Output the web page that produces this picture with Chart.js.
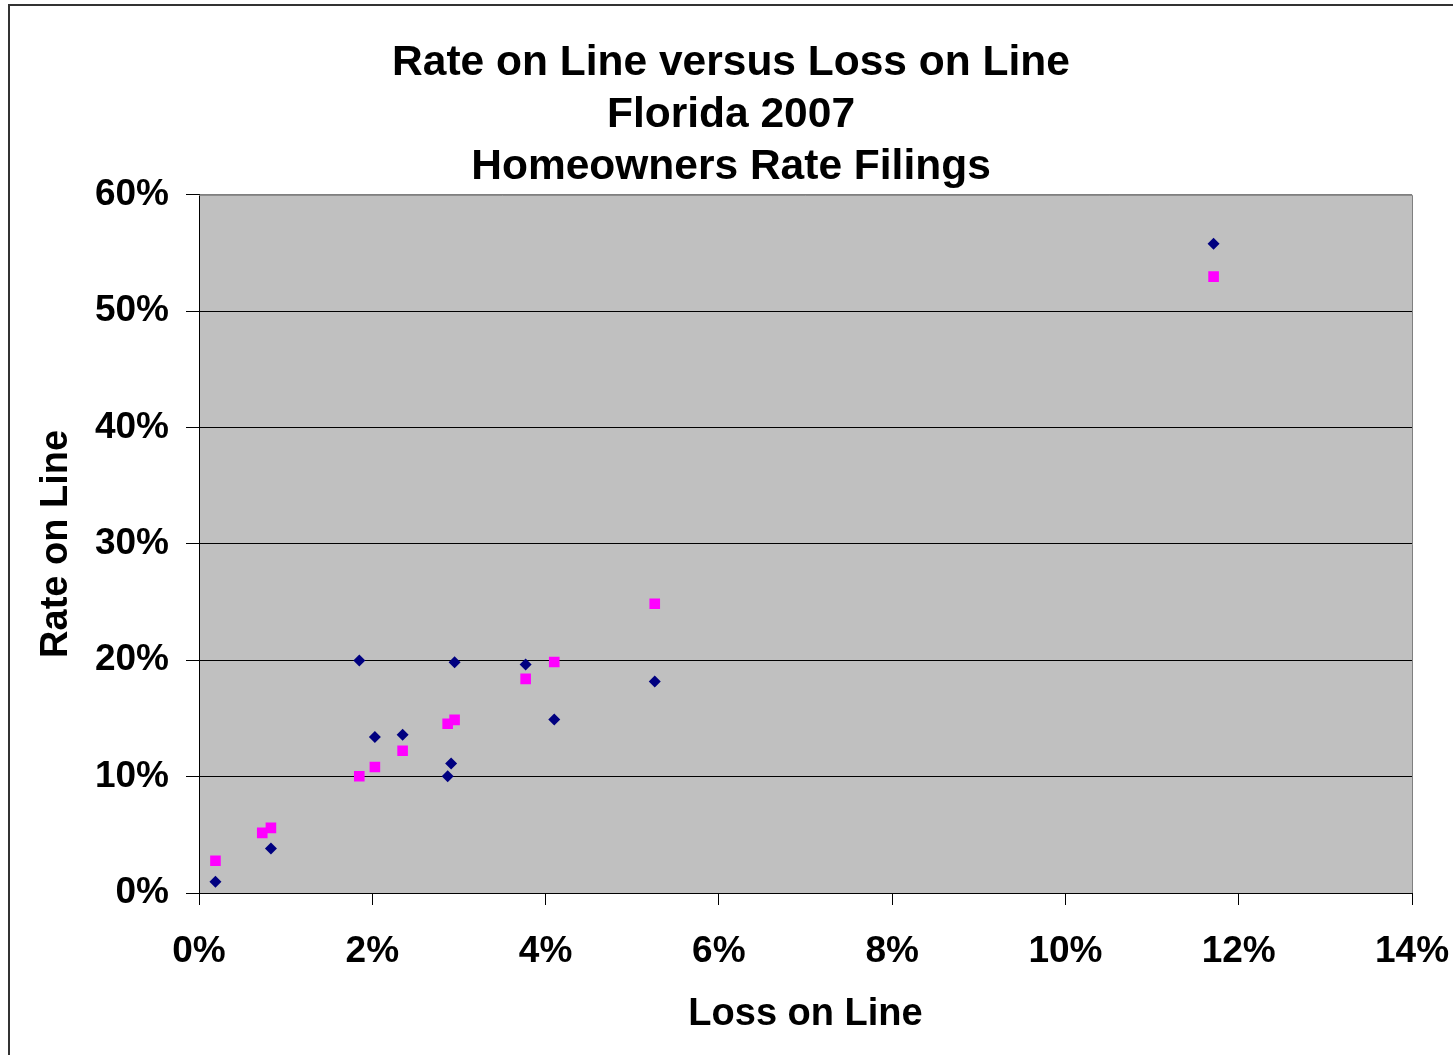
<!DOCTYPE html>
<html>
<head>
<meta charset="utf-8">
<script src="https://cdn.jsdelivr.net/npm/chart.js@4"></script>
<style>
  html, body { margin: 0; padding: 0; background: #fff; overflow: hidden; }
  #frame { position: absolute; left: 8px; top: 4px; width: 1500px; height: 1100px;
           border-left: 2px solid #333; border-top: 2px solid #333; }
  #wrap { position: absolute; left: 0; top: 0; width: 1453px; height: 1055px; }
</style>
</head>
<body>
<div id="frame"></div>
<div id="wrap"><canvas id="chart" width="1453" height="1055"></canvas></div>
<script>
// Loss on Line (x, %) and Rate on Line (y, %)
const lossOnLineA = [0.19, 0.83, 1.85, 2.03, 2.35, 2.87, 2.91, 2.95, 3.77, 4.10, 5.26, 11.71];
const rateOnLineA = [0.97, 3.83, 19.97, 13.40, 13.60, 10.03, 11.12, 19.83, 19.63, 14.91, 18.17, 55.80];

const lossOnLineB = [0.19, 0.73, 0.83, 1.85, 2.03, 2.35, 2.87, 2.95, 3.77, 4.10, 5.26, 11.71];
const rateOnLineB = [2.77, 5.17, 5.60, 10.03, 10.83, 12.23, 14.54, 14.88, 18.40, 19.85, 24.86, 52.97];

const titleLines = ['Rate on Line versus Loss on Line', 'Florida 2007', 'Homeowners Rate Filings'];
const xTicks = [0, 2, 4, 6, 8, 10, 12, 14];
const yTicks = [0, 10, 20, 30, 40, 50, 60];

const FONT = "Arial, 'Liberation Sans', sans-serif";

function toPoints(xs, ys) {
    return xs.map((x, i) => ({ x: x, y: ys[i] }));
}

// Gray plot area with gray top/right edges
const plotArea = {
    id: 'plotArea',
    beforeDraw(chart) {
        const { ctx, chartArea: a } = chart;
        ctx.save();
        ctx.fillStyle = '#C0C0C0';
        ctx.fillRect(a.left, a.top, a.right - a.left, a.bottom - a.top);
        ctx.restore();
    },
    beforeDatasetsDraw(chart) {
        const { ctx, chartArea: a } = chart;
        ctx.save();
        ctx.strokeStyle = '#808080';
        ctx.lineWidth = 1;
        ctx.beginPath();
        ctx.moveTo(a.left, a.top + 0.5);
        ctx.lineTo(a.right + 0.5, a.top + 0.5);
        ctx.lineTo(a.right + 0.5, a.bottom);
        ctx.stroke();
        ctx.restore();
    }
};

const ctx = document.getElementById('chart');
new Chart(ctx, {
    type: 'scatter',
    data: {
        datasets: [
            {
                label: 'Series 1',
                data: toPoints(lossOnLineA, rateOnLineA),
                pointStyle: 'rectRot',
                pointRadius: 6,
                backgroundColor: '#000080',
                borderColor: '#000080',
                borderWidth: 0
            },
            {
                label: 'Series 2',
                data: toPoints(lossOnLineB, rateOnLineB),
                pointStyle: 'rect',
                pointRadius: 7.5,
                backgroundColor: '#FF00FF',
                borderColor: '#FF00FF',
                borderWidth: 0
            }
        ]
    },
    options: {
        responsive: false,
        animation: false,
        devicePixelRatio: 1,
        layout: { padding: { left: 9, right: 0, top: 4, bottom: 0 } },
        plugins: {
            legend: { display: false },
            tooltip: { enabled: false },
            title: {
                display: true,
                text: titleLines,
                color: '#000',
                font: { family: FONT, size: 42.5, weight: 'bold', lineHeight: 1.23 },
                padding: { top: 33, bottom: 1 }
            }
        },
        scales: {
            x: {
                type: 'linear',
                min: 0,
                max: 14,
                afterBuildTicks(scale) { scale.ticks = xTicks.map(v => ({ value: v })); },
                afterFit(scale) {
                    scale.height = 162;
                    scale.paddingLeft = 0;
                    scale.paddingRight = 41;
                },
                ticks: {
                    color: '#000',
                    padding: 25,
                    maxRotation: 0,
                    font: { family: FONT, size: 37, weight: 'bold' },
                    callback: v => v + '%'
                },
                grid: { drawOnChartArea: false, drawTicks: true, tickLength: 12, tickColor: '#000', color: '#000' },
                border: { display: true, color: '#000', width: 1 },
                title: {
                    display: true,
                    text: 'Loss on Line',
                    color: '#000',
                    font: { family: FONT, size: 38, weight: 'bold', lineHeight: 1.2 },
                    padding: { top: 0, bottom: 18 }
                }
            },
            y: {
                type: 'linear',
                min: 0,
                max: 60,
                afterBuildTicks(scale) { scale.ticks = yTicks.map(v => ({ value: v })); },
                afterFit(scale) { scale.width = 190; },
                ticks: {
                    color: '#000',
                    padding: 17,
                    font: { family: FONT, size: 37, weight: 'bold' },
                    callback: v => v + '%'
                },
                grid: {
                    drawTicks: true,
                    tickLength: 13,
                    tickColor: '#000',
                    lineWidth: 1,
                    color: c => (c.tick && c.tick.value === 60) ? '#808080' : '#000'
                },
                border: { display: true, color: '#000', width: 1 },
                title: {
                    display: true,
                    text: 'Rate on Line',
                    color: '#000',
                    font: { family: FONT, size: 38, weight: 'bold', lineHeight: 1.2 },
                    padding: { top: 25, bottom: 0 }
                }
            }
        }
    },
    plugins: [plotArea]
});
</script>
</body>
</html>
